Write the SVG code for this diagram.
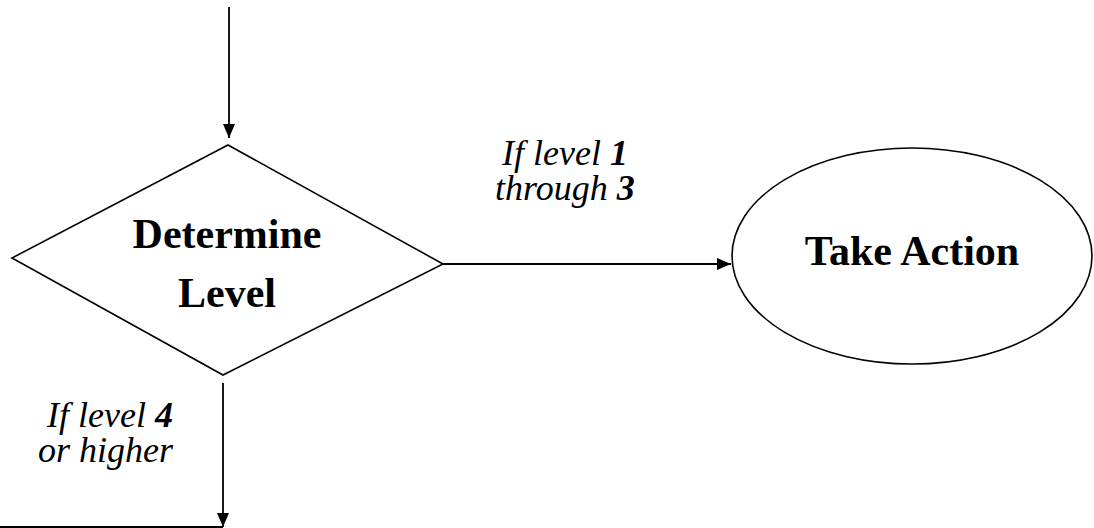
<svg xmlns="http://www.w3.org/2000/svg" width="1094" height="528" viewBox="0 0 1094 528">
<style>
.shape{fill:#fff;stroke:#000;stroke-width:1.6}
.conn{fill:none;stroke:#000;stroke-width:1.8}
.node{font-family:"Liberation Serif",serif;font-weight:bold;font-size:42px;fill:#000;text-anchor:middle}
.lbl{font-family:"Liberation Serif",serif;font-style:italic;font-size:36px;fill:#000}
.num{font-weight:bold}
</style>
<defs>
<marker id="ah" markerWidth="14" markerHeight="12" refX="14" refY="6" orient="auto" markerUnits="userSpaceOnUse">
<path d="M0,0 L14,6 L0,12 Z" fill="#000"/>
</marker>
</defs>
<rect width="1094" height="528" fill="#fff"/>
<g id="connectors">
<line class="conn" x1="229" y1="7" x2="229" y2="138" marker-end="url(#ah)"/>
<line class="conn" x1="443" y1="264" x2="731" y2="264" marker-end="url(#ah)"/>
<line class="conn" x1="223" y1="383" x2="223" y2="527" marker-end="url(#ah)"/>
<line class="conn" x1="0" y1="527" x2="223" y2="527"/>
</g>
<g id="determine-level">
<polygon class="shape" points="228,145 443,264 223,375 12,258"/>
<text class="node" x="227" y="248">Determine</text>
<text class="node" x="227" y="307">Level</text>
</g>
<g id="take-action">
<ellipse class="shape" cx="912" cy="256" rx="180" ry="108"/>
<text class="node" x="912" y="265">Take Action</text>
</g>
<g id="labels">
<text class="lbl" x="502" y="165">If level <tspan class="num">1</tspan></text>
<text class="lbl" x="495" y="200">through <tspan class="num">3</tspan></text>
<text class="lbl" x="173" y="427" text-anchor="end">If level <tspan class="num">4</tspan></text>
<text class="lbl" x="173" y="462" text-anchor="end">or higher</text>
</g>
</svg>
